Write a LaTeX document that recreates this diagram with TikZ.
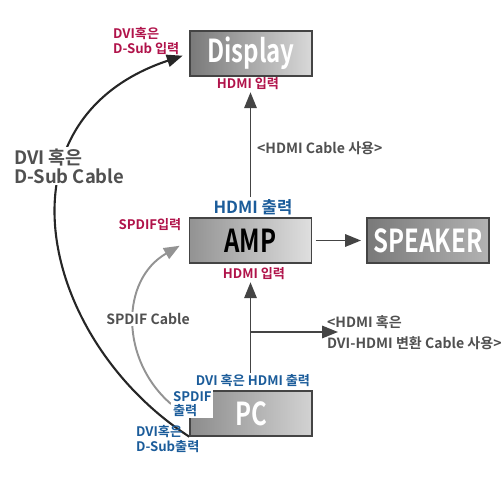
\documentclass[tikz,border=0pt]{standalone}
\usepackage{fontspec}
\setmainfont{Noto Sans CJK KR}[BoldFont={* Bold}]
\usetikzlibrary{arrows.meta}
\usetikzlibrary{positioning}
\definecolor{inred}{HTML}{B0134A}
\definecolor{outblue}{HTML}{1B5C9A}
\definecolor{cabgray}{HTML}{505050}
\definecolor{linegray}{HTML}{444444}
\pgfdeclarelayer{bg}
\pgfsetlayers{bg,main}
\newcommand{\devtext}[2]{\scalebox{0.76}[1]{\fontsize{18}{18}\selectfont\bfseries\color{#1}#2}}
\tikzset{dev/.style = {draw=linegray, line width=0.8pt, minimum width=2.44cm, minimum height=0.9cm, inner sep=0}}
\tikzset{inlbl/.style = {text=inred, font=\bfseries\fontsize{7.5}{8.5}\selectfont, inner sep=1pt, align=left}}
\tikzset{outlbl/.style = {text=outblue, font=\bfseries\fontsize{7.5}{8}\selectfont, inner sep=1pt, align=left}}
\tikzset{cablbl/.style = {text=cabgray, font=\bfseries\fontsize{8}{12}\selectfont, inner sep=1pt, align=left}}
\tikzset{arr/.style = {draw=linegray, line width=1.1pt, -{Triangle[length=9pt,width=7pt]}}}

\begin{document}
\begin{tikzpicture}[x=0.02cm, y=-0.02cm]
      \useasboundingbox (0,0) rectangle (500,500);

      % devices
      \node [dev, left color=gray!95!black, right color=gray!30] (disp) at (251, 53.5) {\devtext{white}{Display}};
      \node [dev, left color=gray!85, right color=gray!25] (amp) at (250.5, 240.5) {\devtext{black}{AMP}};
      \node [dev, left color=gray!95!black, right color=gray!60] (spk) at (428, 240.5) {\devtext{white}{SPEAKER}};
      \node [dev, left color=gray!90, right color=gray!35] (pc) at (251, 413.5) {\devtext{white}{PC}};

      % port labels
      \node [inlbl, anchor=west] (dvdin) at (111, 41) {DVI혹은\\D-Sub 입력};
      \node [inlbl] (dispin) at (248, 84) {HDMI 입력};
      \node [outlbl, font=\bfseries\fontsize{9.5}{10}\selectfont] (ampout) at (253, 207) {HDMI 출력};
      \node [inlbl] (spdifin) at (150, 225) {SPDIF입력};
      \node [inlbl] (ampin) at (254, 274) {HDMI 입력};
      \node [outlbl] (pcout) at (253, 381) {DVI 혹은 HDMI 출력};
      \node [outlbl, anchor=west, fill=white] (spdifout) at (171, 404) {SPDIF\\출력};
      \node [outlbl, anchor=west] (dsubout) at (134, 439) {DVI혹은\\D-Sub출력};

      % cable labels
      \node [cablbl, anchor=west] (hdmicab) at (255, 148) {<HDMI Cable 사용>};
      \node [cablbl, anchor=west, font=\bfseries\fontsize{10.5}{11}\selectfont, fill=white] (dsubcab) at (12, 166) {DVI 혹은\\D-Sub Cable};
      \node [cablbl, fill=white] (spdifcab) at (148, 319) {SPDIF Cable};
      \node [cablbl, anchor=west] (convcab) at (325, 332.5) {<HDMI 혹은\\DVI-HDMI 변환 Cable 사용>};

      % straight cables
      \draw [arr] (ampout.north -| amp.center) -- (dispin.south -| amp.center);
      \draw [arr] (pcout.north -| amp.center) -- (ampin.south -| amp.center);
      \draw [arr, shorten <=2pt, shorten >=3pt] (amp) -- (spk);
      \coordinate (br) at (amp.center |- 0, 332);
      \coordinate (brend) at (338, 332);
      \draw [arr] (br) -- (brend);

      % curved cables
      \begin{pgfonlayer}{bg}
      \draw [arr, line width=1.2pt, draw=black!85, shorten >=4pt] (pc.south west) .. controls (40, 340) and (-10, 120) .. (disp.west);
      \draw [arr, draw=gray!85, shorten >=6pt] (spdifout.west) .. controls (120, 360) and (120, 280) .. (amp.west);
      \end{pgfonlayer}
    \end{tikzpicture}
\end{document}
